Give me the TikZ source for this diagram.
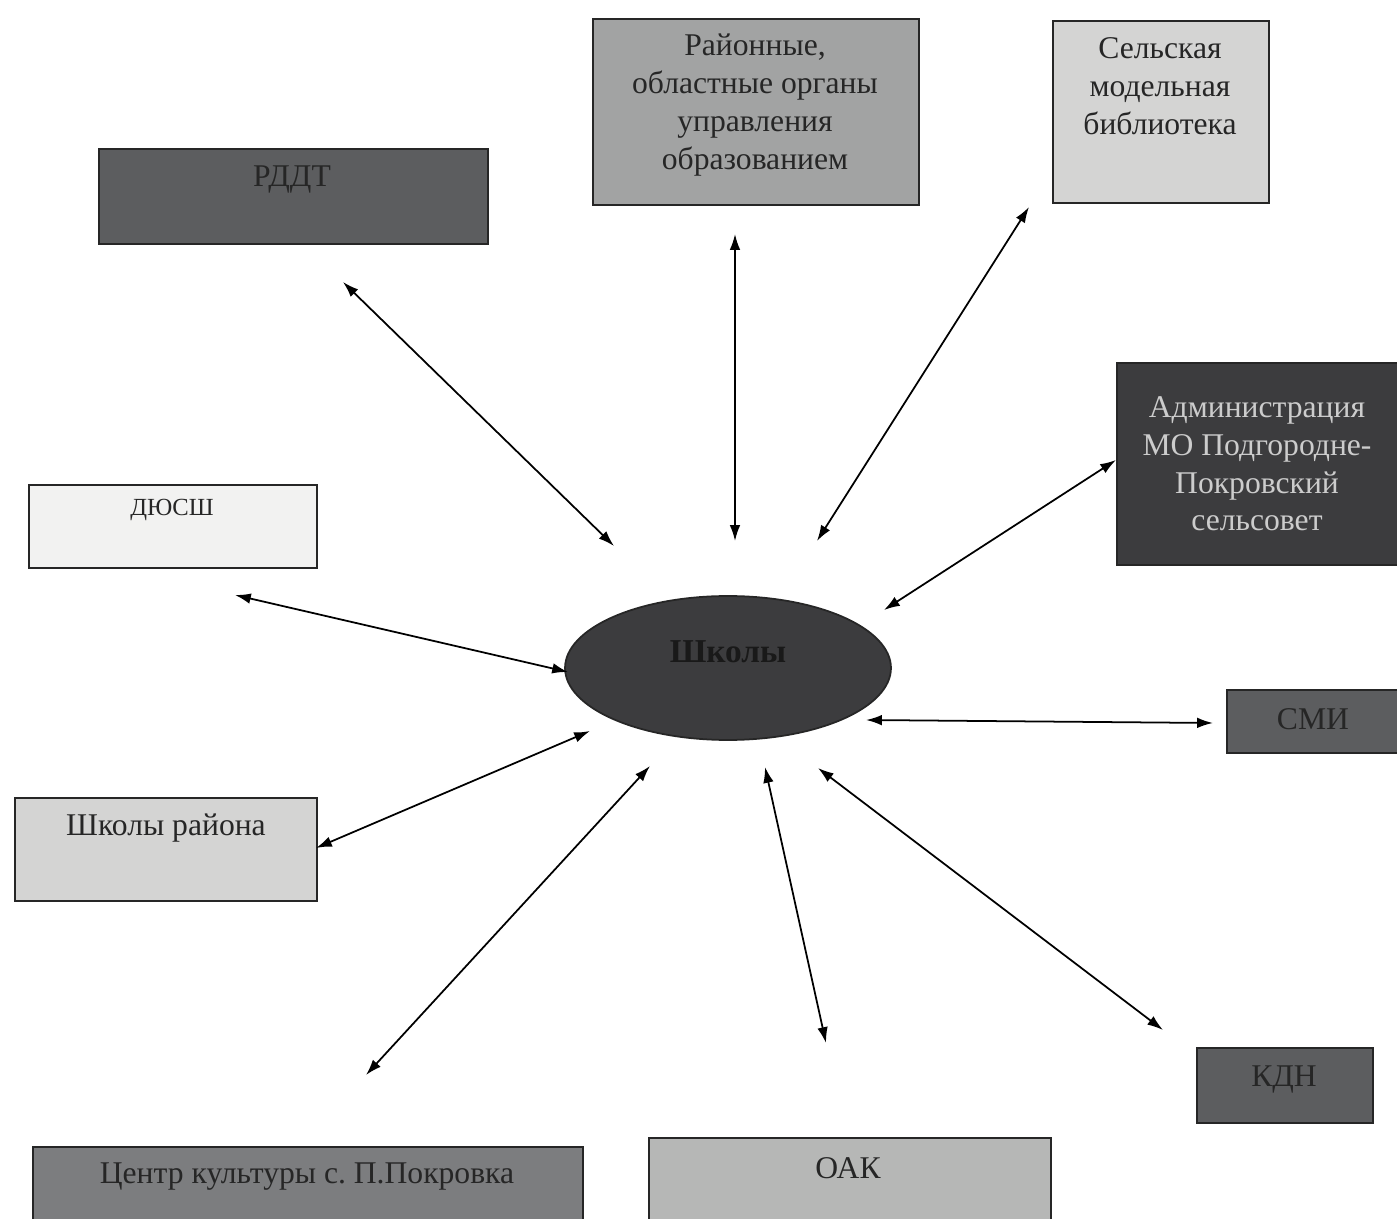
\documentclass[tikz,border=0pt]{standalone}
\usepackage{fontspec}
\setmainfont{Liberation Serif}
\usepackage{xcolor}
\usetikzlibrary{arrows.meta, shapes.geometric}
\frenchspacing

\definecolor{gdark}{HTML}{3C3C3E}
\definecolor{gmid}{HTML}{5C5D5F}
\definecolor{gtone}{HTML}{7C7D7F}
\definecolor{glight}{HTML}{A2A3A3}
\definecolor{gpale}{HTML}{B6B7B6}
\definecolor{gsoft}{HTML}{D4D4D3}
\definecolor{gwhite}{HTML}{F2F2F1}

\tikzset{
    box/.style={draw=black!85, line width=1pt, anchor=north west, inner sep=0pt},
    txt/.style={font=\fontsize{18}{21.5}\selectfont, align=center, text=black!85},
    link/.style={{Latex[length=9pt,width=6pt]}-{Latex[length=9pt,width=6pt]}, line width=1pt}
}

\begin{document}
\begin{tikzpicture}[x=0.02cm, y=-0.02cm]
    \useasboundingbox (0,0) rectangle (1397,1219);

    \node[box, fill=gmid, minimum width=7.78cm, minimum height=1.9cm] (rddt) at (98,148) {};
    \node[box, fill=glight, minimum width=6.52cm, minimum height=3.72cm] (organy) at (592,18) {};
    \node[box, fill=gsoft, minimum width=4.32cm, minimum height=3.64cm] (biblio) at (1052,20) {};
    \node[box, fill=gdark, minimum width=5.7cm, minimum height=4.04cm] (admin) at (1116,362) {};
    \node[box, fill=gwhite, minimum width=5.76cm, minimum height=1.66cm] (dyussh) at (28,484) {};
    \node[box, fill=gmid, minimum width=3.6cm, minimum height=1.26cm] (smi) at (1226,689) {};
    \node[box, fill=gsoft, minimum width=6.04cm, minimum height=2.06cm] (rayon) at (14,797) {};
    \node[box, fill=gmid, minimum width=3.52cm, minimum height=1.5cm] (kdn) at (1196,1047) {};
    \node[box, fill=gtone, minimum width=11cm, minimum height=1.5cm] (centr) at (32,1146) {};
    \node[box, fill=gpale, minimum width=8.04cm, minimum height=1.7cm] (oak) at (648,1137) {};

    \node[ellipse, draw=black!85, line width=1pt, fill=gdark, minimum width=6.52cm, minimum height=2.88cm] (shkoly) at (728,668) {};

    \node[txt] (rddt-t) at (292,180) {РДДТ};
    \node[txt] (organy-t) at (755,105) {Районные,\\областные органы\\управления\\образованием};
    \node[txt] (biblio-t) at (1160,86) {Сельская\\модельная\\библиотека};
    \node[txt, text=black!20] (admin-t) at (1257,464) {Администрация\\МО Подгородне-\\Покровский\\сельсовет};
    \node[txt, font=\fontsize{14}{17}\selectfont] (dyussh-t) at (172,510) {ДЮСШ};
    \node[txt, text=black!90, font=\fontsize{19}{22}\selectfont\bfseries] (shkoly-t) at (728,652) {Школы};
    \node[txt] (smi-t) at (1313,719) {СМИ};
    \node[txt] (rayon-t) at (166,828) {Школы района};
    \node[txt] (kdn-t) at (1284,1080) {КДН};
    \node[txt] (centr-t) at (307,1177) {Центр культуры с. П.Покровка};
    \node[txt] (oak-t) at (848,1168) {ОАК};

    \coordinate (a1) at (343,282);   \coordinate (b1) at (614,546);
    \coordinate (a2) at (735,234);   \coordinate (b2) at (735,541);
    \coordinate (a3) at (1029,207);  \coordinate (b3) at (817,541);
    \coordinate (a4) at (1116,460);  \coordinate (b4) at (884,610);
    \coordinate (a5) at (235,595);   \coordinate (b5) at (568,672);
    \coordinate (a6) at (1213,723);  \coordinate (b6) at (866,720);
    \coordinate (a7) at (316,848);   \coordinate (b7) at (590,731);
    \coordinate (a8) at (366,1075);  \coordinate (b8) at (650,766);
    \coordinate (a9) at (826,1043);  \coordinate (b9) at (765,767);
    \coordinate (a10) at (1163,1030); \coordinate (b10) at (818,768);

    \foreach \i in {1,...,10}
        \draw[link] (a\i) -- (b\i);
\end{tikzpicture}
\end{document}
